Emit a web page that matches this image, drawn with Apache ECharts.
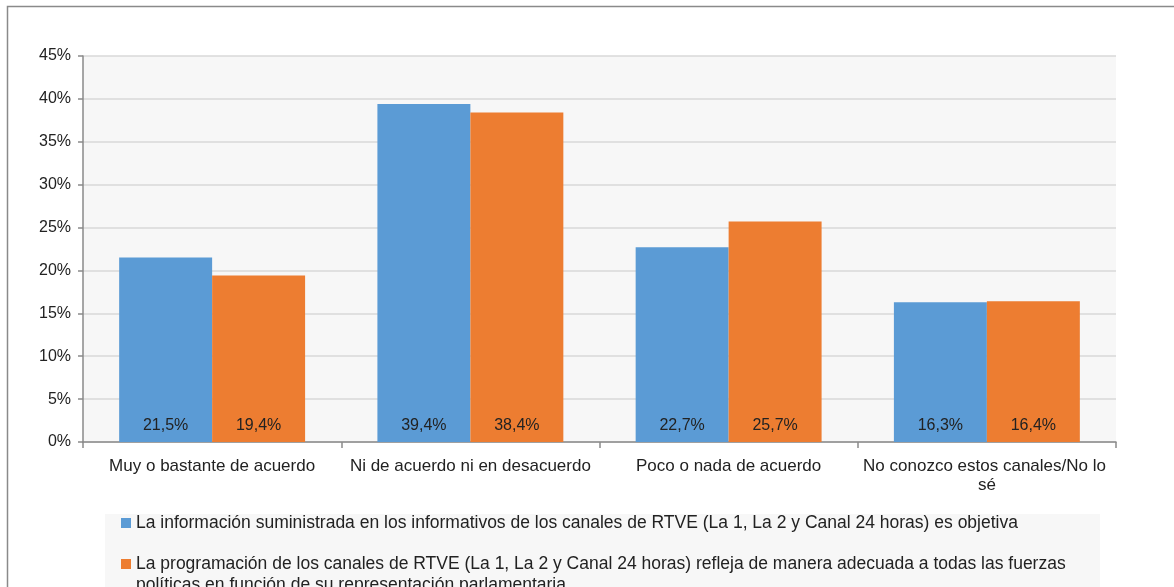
<!DOCTYPE html>
<html>
<head>
<meta charset="utf-8">
<script src="https://cdn.jsdelivr.net/npm/echarts@6/dist/echarts.min.js"></script>
<style>
  html, body { margin: 0; padding: 0; background: #fff; }
  #chart { width: 1174px; height: 587px; }
</style>
</head>
<body>
<div id="chart"></div>
<script>
// categorias y valores (%)
var categorias = ['Muy o bastante de acuerdo', 'Ni de acuerdo ni en desacuerdo', 'Poco o nada de acuerdo', 'No conozco estos canales/No lo sé'];
var informacion = [21.5, 39.4, 22.7, 16.3];
var programacion = [19.4, 38.4, 25.7, 16.4];
var serie1 = 'La información suministrada en los informativos de los canales de RTVE (La 1, La 2 y Canal 24 horas) es objetiva';
var serie2 = 'La programación de los canales de RTVE (La 1, La 2 y Canal 24 horas) refleja de manera adecuada a todas las fuerzas';
var serie2b = 'políticas en función de su representación parlamentaria';

var myChart = echarts.init(document.getElementById('chart'));
var fuente = '"Liberation Sans", Arial, sans-serif';

function pct(p) {
    return p.value.toFixed(1).replace('.', ',') + '%';
}

var etiqueta = {
    show: true,
    position: 'insideBottom',
    distance: 8,
    formatter: pct,
    color: '#222',
    fontSize: 16,
    fontFamily: fuente
};

option = {
    animation: false,
    textStyle: { fontFamily: fuente },
    grid: {
        left: 83,
        right: 58,
        top: 56,
        bottom: 145,
        show: true,
        backgroundColor: '#F7F7F7',
        borderWidth: 0
    },
    legend: {
        orient: 'vertical',
        left: 121,
        top: 514,
        padding: 0,
        itemGap: 23,
        itemWidth: 10,
        itemHeight: 10,
        icon: 'rect',
        textStyle: { fontSize: 17.5, color: '#222', fontFamily: fuente },
        data: [serie1, serie2]
    },
    graphic: [
        {
            type: 'rect',
            z: -10,
            shape: { x: 105, y: 514, width: 995, height: 90 },
            style: { fill: '#F7F7F7' }
        },
        {
            type: 'rect',
            shape: { x: 7.5, y: 6.5, width: 1400, height: 800 },
            style: { fill: 'none', stroke: '#8a8a8a', lineWidth: 1.5 }
        },
        {
            type: 'text',
            left: 136,
            top: 576,
            style: { text: serie2b, fill: '#222', font: '17.5px ' + fuente }
        }
    ],
    xAxis: {
        type: 'category',
        data: categorias,
        axisLine: { lineStyle: { color: '#8a8a8a', width: 1.5 } },
        axisTick: { show: true, length: 6, lineStyle: { color: '#8a8a8a', width: 1.5 } },
        axisLabel: {
            color: '#222',
            fontSize: 17,
            margin: 15,
            lineHeight: 19,
            width: 256,
            overflow: 'break',
            interval: 0
        }
    },
    yAxis: {
        type: 'value',
        min: 0,
        max: 45,
        interval: 5,
        axisLine: { show: true, lineStyle: { color: '#8a8a8a', width: 1.5 } },
        axisTick: { show: true, length: 5, lineStyle: { color: '#8a8a8a', width: 1.5 } },
        axisLabel: { formatter: '{value}%', color: '#222', fontSize: 16, margin: 12 },
        splitLine: { lineStyle: { color: '#D9D9D9', width: 1.5 } }
    },
    series: [
        {
            name: serie1,
            type: 'bar',
            data: informacion,
            barGap: '0%',
            barCategoryGap: '28%',
            itemStyle: { color: '#5B9BD5' },
            label: etiqueta
        },
        {
            name: serie2,
            type: 'bar',
            data: programacion,
            itemStyle: { color: '#ED7D31' },
            label: etiqueta
        }
    ]
};

myChart.setOption(option);
</script>
</body>
</html>
